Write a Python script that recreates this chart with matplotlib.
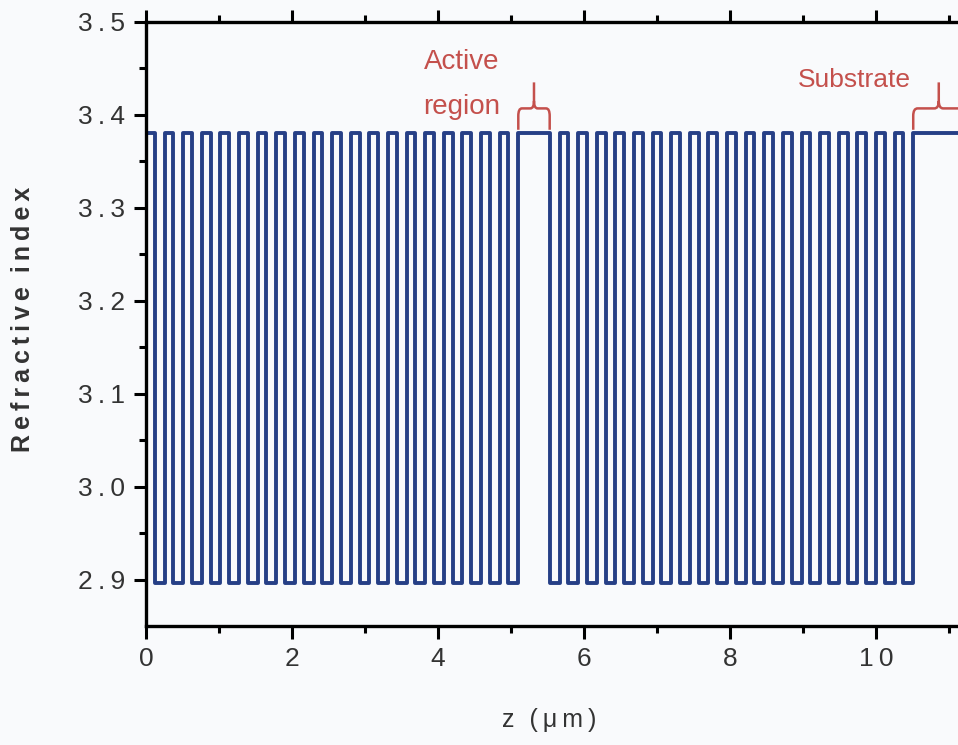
import numpy as np
import matplotlib.pyplot as plt
from matplotlib.path import Path
from matplotlib.patches import PathPatch

# layer parameters of the microcavity (thickness in um)
n_high = 3.38
n_low = 2.896
d_high = 0.12
d_low = 0.135
top_pairs = 20          # top DBR: high/low pairs
active_thick = 0.43     # active region (high index)
bottom_lows = 20        # bottom DBR starts and ends with a low layer
substrate_thick = 1.6

x_ticks = [0, 2, 4, 6, 8, 10]
y_ticks = [2.9, 3.0, 3.1, 3.2, 3.3, 3.4, 3.5]

# build the layer stack from the surface (z=0) towards the substrate
thick = []
index = []
for i in range(top_pairs):
    thick += [d_high, d_low]
    index += [n_high, n_low]
thick.append(active_thick)
index.append(n_high)
for i in range(bottom_lows):
    thick.append(d_low)
    index.append(n_low)
    if i < bottom_lows - 1:
        thick.append(d_high)
        index.append(n_high)
thick.append(substrate_thick)
index.append(n_high)

edges = np.concatenate([[0], np.cumsum(thick)])
index = np.array(index)

plt.rcParams['font.family'] = ['Liberation Sans', 'DejaVu Sans']
TS = '\u2009'  # thin space, gives the wide letter spacing


def spaced(s):
    return TS.join(s)


fig = plt.figure(figsize=(9.58, 7.45), dpi=100)
fig.patch.set_facecolor('#f9fafc')
# axes run past the right border of the figure on purpose
ax = fig.add_axes([0.1524, 0.1597, 0.9144, 0.8108])
ax.set_facecolor('#f9fafc')

ax.stairs(index, edges, baseline=None, color='#263f86', lw=2.8,
          joinstyle='round')

ax.set_xlim(0, 12)
ax.set_ylim(2.85, 3.5)

ax.set_xticks(x_ticks)
ax.set_xticklabels([spaced(str(v)) for v in x_ticks])
ax.set_xticks(np.arange(1, 12, 2), minor=True)
ax.set_yticks(y_ticks)
ax.set_yticklabels([spaced('%.1f' % v) for v in y_ticks])
ax.set_yticks(np.arange(2.95, 3.5, 0.1), minor=True)

for s in ['left', 'bottom', 'top']:
    ax.spines[s].set_linewidth(2.4)
ax.spines['right'].set_visible(False)

ax.tick_params(which='major', direction='out', length=9, width=2.2,
               labelsize=19, colors='black', labelcolor='#333333', pad=6,
               top=True)
ax.tick_params(which='minor', direction='out', length=5, width=2.2, top=True)

ax.set_ylabel(spaced('Refractive') + '  ' + spaced('index'), fontsize=18,
              fontweight='bold', color='#333333')
ax.yaxis.set_label_coords(-0.127, 0.507)
ax.set_xlabel('z' + TS * 3 + '(' + TS + 'μ' + TS + 'm' + TS + ')',
              fontsize=18, color='#333333')
ax.xaxis.set_label_coords(0.46, -0.136)

red = '#c4504c'


def brace(x0, x1, yb, ym, yt, r):
    # horizontal curly brace opening downwards
    xc = 0.5 * (x0 + x1)
    ry = (ym - yb) * 0.35
    verts = [(x0, yb), (x0, ym - ry), (x0, ym), (x0 + r, ym),
             (xc - r, ym), (xc, ym), (xc, ym + ry), (xc, yt),
             (xc, ym + ry), (xc, ym), (xc + r, ym),
             (x1 - r, ym), (x1, ym), (x1, ym - ry), (x1, yb)]
    codes = [Path.MOVETO, Path.LINETO, Path.CURVE3, Path.CURVE3,
             Path.LINETO, Path.CURVE3, Path.CURVE3, Path.LINETO,
             Path.MOVETO, Path.CURVE3, Path.CURVE3,
             Path.LINETO, Path.CURVE3, Path.CURVE3, Path.LINETO]
    ax.add_patch(PathPatch(Path(verts, codes), fill=False, ec=red, lw=1.8,
                           clip_on=False))


active_start = edges[2 * top_pairs]
active_end = edges[2 * top_pairs + 1]
sub_start = edges[-2]

brace(active_start, active_end, 3.384, 3.407, 3.435, 0.05)
brace(sub_start, sub_start + 0.7, 3.384, 3.407, 3.435, 0.06)

ax.text(4.33, 3.457, 'Active', color=red, fontsize=20, ha='center', va='center')
ax.text(4.33, 3.409, 'region', color=red, fontsize=20, ha='center', va='center')
ax.text(9.71, 3.438, 'Substrate', color=red, fontsize=19, ha='center', va='center')

fig.savefig('out.png', dpi=100, facecolor=fig.get_facecolor())
